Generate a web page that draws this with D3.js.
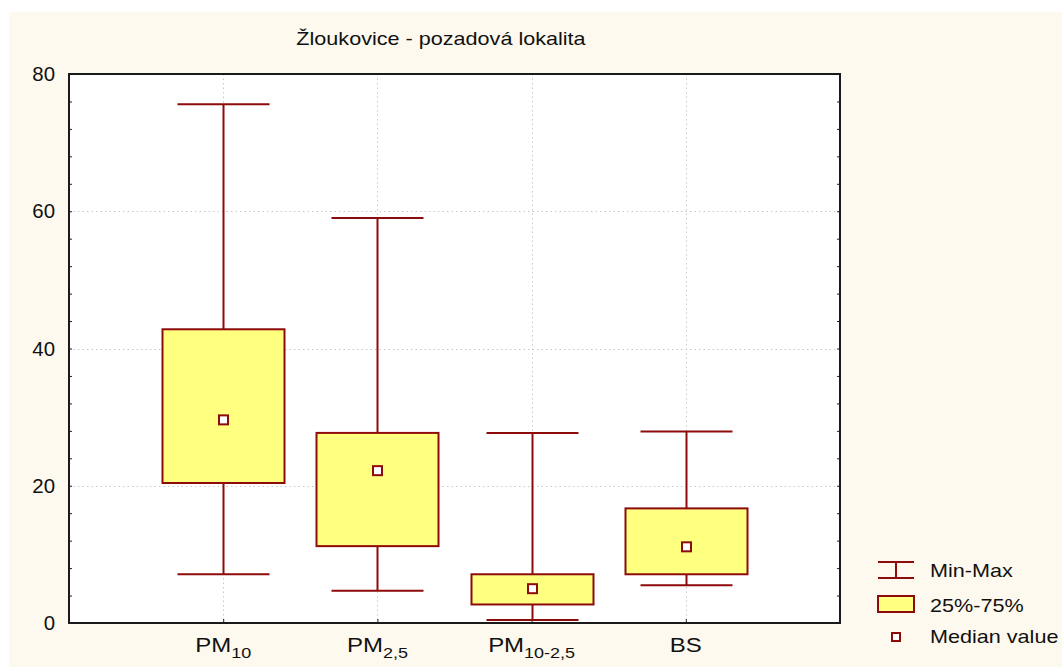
<!DOCTYPE html>
<html>
<head>
<meta charset="utf-8">
<script src="https://cdn.jsdelivr.net/npm/d3@7"></script>
<style>
  html, body { margin: 0; padding: 0; background: #ffffff; }
  svg { display: block; font-family: "Liberation Sans", Arial, sans-serif; }
</style>
</head>
<body>
<svg id="chart" width="1062" height="668"></svg>
<script>
// Box-plot summary per pollutant (µg/m³)
const categories = ["PM10", "PM2,5", "PM10-2,5", "BS"];
const labelMain = ["PM", "PM", "PM", "BS"];
const labelSub = ["10", "2,5", "10-2,5", ""];
const minValues = [7.1, 4.7, 0.45, 5.5];
const q1Values = [20.4, 11.2, 2.7, 7.1];
const medianValues = [29.6, 22.2, 5.0, 11.1];
const q3Values = [42.8, 27.7, 7.1, 16.7];
const maxValues = [75.6, 59.0, 27.7, 27.9];
const yTicks = [0, 20, 40, 60, 80];
const titleText = "Žloukovice - pozadová lokalita";
const legendLabels = ["Min-Max", "25%-75%", "Median value"];

const stroke = "#8e0b0b";
const fill = "#ffff80";
const textColor = "#111111";
const wide = 1.2; // horizontal widening of lettering

const svg = d3.select("#chart");
const W = 1062;
const plot = { left: 69, top: 74, right: 840, bottom: 623 };

// places a widened text at (x, y)
function label(parent, x, y, txt, size, anchor, sx) {
  return parent.append("text")
    .attr("transform", `translate(${x},${y}) scale(${sx || wide},1)`)
    .attr("text-anchor", anchor || "start")
    .attr("font-size", size).attr("fill", textColor).text(txt);
}

// cream panel
svg.append("rect").attr("x", 9).attr("y", 12).attr("width", W - 9).attr("height", 655)
  .attr("fill", "#fef9ee");

// plot area
svg.append("rect").attr("x", plot.left).attr("y", plot.top)
  .attr("width", plot.right - plot.left).attr("height", plot.bottom - plot.top)
  .attr("fill", "#ffffff");

const y = d3.scaleLinear().domain([0, 80]).range([plot.bottom, plot.top]);
const x = d3.scalePoint().domain(categories).range([plot.left, plot.right]).padding(1);

// dotted gridlines
const grid = svg.append("g").attr("stroke", "#c8c8c8").attr("stroke-dasharray", "1.5,3").attr("stroke-width", 1);
yTicks.filter(t => t > 0 && t < 80).forEach(t => {
  grid.append("line").attr("x1", plot.left).attr("x2", plot.right)
    .attr("y1", Math.round(y(t)) + 0.5).attr("y2", Math.round(y(t)) + 0.5);
});
categories.forEach(c => {
  grid.append("line").attr("x1", Math.round(x(c)) + 0.5).attr("x2", Math.round(x(c)) + 0.5)
    .attr("y1", plot.top).attr("y2", plot.bottom);
});

// y tick labels
const gl = svg.append("g");
yTicks.forEach(t => {
  label(gl, 55, y(t), d3.format("d")(t), 20, "end", 1.02).attr("dy", "0.35em");
});

// inner minor ticks on left and right sides, category ticks at the bottom
const minorTicks = d3.range(0, 81, 4);
const gLeftMinor = svg.append("g").attr("transform", `translate(${plot.left},0)`)
  .call(d3.axisRight(y).tickValues(minorTicks).tickSize(3).tickFormat(""));
gLeftMinor.select(".domain").remove();
gLeftMinor.selectAll("line").attr("stroke", "#222");
const gRightMinor = svg.append("g").attr("transform", `translate(${plot.right},0)`)
  .call(d3.axisLeft(y).tickValues(minorTicks).tickSize(3).tickFormat(""));
gRightMinor.select(".domain").remove();
gRightMinor.selectAll("line").attr("stroke", "#222");
const gBottom = svg.append("g").attr("transform", `translate(0,${plot.bottom})`)
  .call(d3.axisTop(x).tickSize(4).tickFormat(""));
gBottom.select(".domain").remove();
gBottom.selectAll("line").attr("stroke", "#222");

// frame
svg.append("rect").attr("x", plot.left).attr("y", plot.top)
  .attr("width", plot.right - plot.left).attr("height", plot.bottom - plot.top)
  .attr("fill", "none").attr("stroke", "#1a1a1a").attr("stroke-width", 2);

// category labels with subscripts
const xl = svg.append("g");
categories.forEach((c, i) => {
  const t = label(xl, x(c), 652, "", 20, "middle");
  t.append("tspan").text(labelMain[i]);
  if (labelSub[i]) {
    t.append("tspan").attr("dy", 6).attr("font-size", 15).text(labelSub[i]);
  }
});

// boxes
const boxHalf = 61, capHalf = 46;
const boxes = svg.append("g");
categories.forEach((c, i) => {
  const cx = Math.round(x(c)) + 0.5;
  const g = boxes.append("g").attr("stroke", stroke).attr("stroke-width", 2).attr("fill", "none");
  // whiskers
  g.append("line").attr("x1", cx).attr("x2", cx).attr("y1", y(maxValues[i])).attr("y2", y(q3Values[i]));
  g.append("line").attr("x1", cx).attr("x2", cx).attr("y1", y(q1Values[i])).attr("y2", y(minValues[i]));
  g.append("line").attr("x1", cx - capHalf).attr("x2", cx + capHalf).attr("y1", y(maxValues[i])).attr("y2", y(maxValues[i]));
  g.append("line").attr("x1", cx - capHalf).attr("x2", cx + capHalf).attr("y1", y(minValues[i])).attr("y2", y(minValues[i]));
  // interquartile box
  g.append("rect").attr("x", cx - boxHalf).attr("y", y(q3Values[i]))
    .attr("width", boxHalf * 2).attr("height", y(q1Values[i]) - y(q3Values[i]))
    .attr("fill", fill);
  // median marker
  g.append("rect").attr("x", cx - 4.5).attr("y", y(medianValues[i]) - 4.5)
    .attr("width", 9).attr("height", 9).attr("fill", "#ffffff");
});

// title
label(svg, 441, 45, titleText, 18, "middle");

// legend
const lg = svg.append("g");
const lx = 896;
const lgs = lg.append("g").attr("stroke", stroke).attr("stroke-width", 2).attr("fill", "none");
lgs.append("line").attr("x1", lx - 18).attr("x2", lx + 18).attr("y1", 562).attr("y2", 562);
lgs.append("line").attr("x1", lx - 18).attr("x2", lx + 18).attr("y1", 578).attr("y2", 578);
lgs.append("line").attr("x1", lx).attr("x2", lx).attr("y1", 562).attr("y2", 578);
lgs.append("rect").attr("x", lx - 18).attr("y", 596).attr("width", 36).attr("height", 16).attr("fill", fill);
lgs.append("rect").attr("x", lx - 4).attr("y", 633).attr("width", 8).attr("height", 8).attr("fill", "#ffffff");
const legBase = [577, 612, 643];
legendLabels.forEach((t, i) => {
  label(lg, 930, legBase[i], t, 18, "start");
});
</script>
</body>
</html>
